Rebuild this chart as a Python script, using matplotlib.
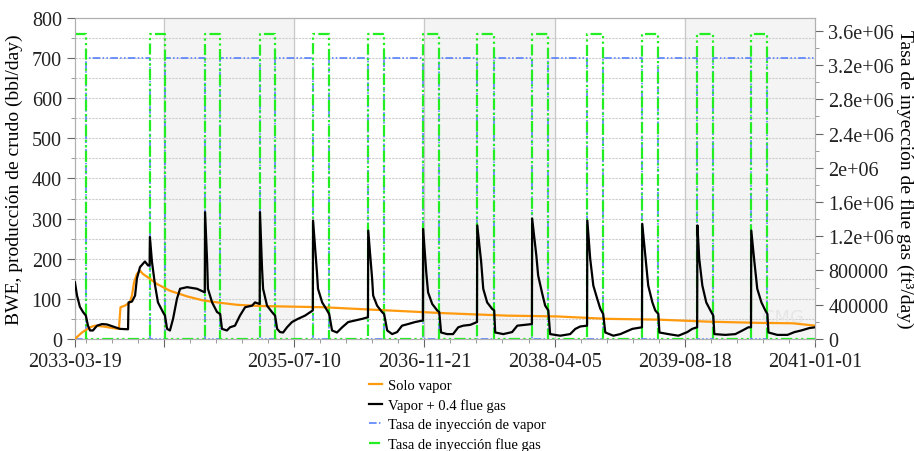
import numpy as np
import matplotlib
matplotlib.use("Agg")
import matplotlib.pyplot as plt
import matplotlib.dates as mdates
from matplotlib.ticker import MultipleLocator, FixedLocator, FixedFormatter

plt.rcParams['font.family'] = ['Liberation Serif', 'DejaVu Serif']

start = np.datetime64('2033-03-19')
end = np.datetime64('2041-01-01')

# flue gas injection windows (days from start)
gas_on = [0, 288, 500, 711, 915, 1127, 1338, 1546, 1757, 1969, 2180, 2392, 2599]
gas_off = [42, 346, 558, 769, 977, 1188, 1400, 1611, 1819, 2030, 2242, 2453, 2661]
steam_rate = 700          # bbl/day
gas_rate = 3.56e6         # ft3/day

# Solo vapor
solo_days = [0, 27, 58, 77, 108, 146, 169, 175, 192, 211, 219, 227, 238, 250, 261, 288,
             315, 365, 431, 492, 558, 623, 711, 950, 1203, 1423, 1661, 1853, 2046, 2242,
             2434, 2626, 2757, 2845]
solo_vals = [0, 16, 29, 33, 31, 27, 25, 79, 83, 91, 108, 141, 162, 170, 162, 150,
             137, 120, 106, 96, 90, 85, 82, 79, 71, 64, 58, 56, 50, 48,
             43, 40, 39, 33]

# Vapor + 0.4 flue gas
mix_days = [0, 8, 19, 31, 42, 50, 58, 69, 85, 104, 123, 173, 204, 206, 219, 231, 238, 250,
            269, 281, 287, 288, 296, 308, 319, 338, 346, 354, 365, 377, 392, 404, 431, 469,
            499, 500, 508, 511, 527, 546, 558, 565, 584, 596, 615, 634, 654, 681, 692, 710,
            711, 719, 723, 738, 757, 769, 777, 788, 800, 815, 834, 857, 884, 914,
            915, 930, 934, 950, 969, 977, 988, 1007, 1027, 1050, 1077, 1104, 1126,
            1127, 1142, 1146, 1161, 1180, 1188, 1200, 1219, 1238, 1257, 1280, 1307, 1337,
            1338, 1350, 1357, 1373, 1392, 1400, 1407, 1430, 1453, 1473, 1492, 1519, 1545,
            1546, 1561, 1569, 1584, 1603, 1611, 1615, 1646, 1680, 1700, 1730, 1756,
            1757, 1773, 1780, 1796, 1807, 1819, 1826, 1865, 1903, 1923, 1942, 1968,
            1969, 1980, 1992, 2007, 2019, 2030, 2038, 2069, 2096, 2142, 2179,
            2180, 2192, 2203, 2219, 2230, 2242, 2246, 2280, 2319, 2353, 2372, 2391,
            2392, 2399, 2411, 2426, 2442, 2453, 2457, 2499, 2538, 2565, 2588, 2598,
            2599, 2611, 2622, 2638, 2653, 2661, 2665, 2699, 2738, 2765, 2791, 2822, 2845]
mix_vals = [141, 108, 80, 67, 58, 33, 21, 21, 33, 37, 36, 25, 24, 91, 93, 108, 150, 179,
            193, 183, 183, 254, 192, 133, 91, 67, 58, 25, 21, 50, 100, 125, 129, 125,
            116, 316, 192, 125, 91, 67, 62, 25, 21, 29, 33, 58, 79, 83, 91, 87,
            316, 175, 125, 83, 67, 58, 25, 17, 16, 29, 42, 50, 58, 71,
            295, 166, 125, 91, 71, 62, 21, 16, 29, 42, 46, 50, 54,
            270, 150, 108, 83, 67, 62, 21, 12, 17, 33, 37, 42, 46,
            274, 166, 116, 87, 71, 67, 16, 12, 12, 29, 33, 35, 42,
            283, 192, 125, 91, 75, 71, 16, 12, 17, 33, 35, 37,
            300, 208, 158, 112, 83, 71, 12, 8, 12, 25, 31, 33,
            295, 200, 133, 100, 75, 62, 16, 8, 12, 25, 29,
            287, 208, 133, 91, 71, 62, 16, 12, 8, 17, 25, 29,
            283, 200, 133, 91, 71, 58, 12, 10, 12, 21, 29, 29,
            270, 192, 125, 91, 71, 62, 16, 10, 10, 17, 21, 27, 29]

x_ticks = ['2033-03-19', '2034-02-25', '2035-07-10', '2036-11-21', '2038-04-05', '2039-08-18', '2041-01-01']
x_labels = ['2033-03-19', '', '2035-07-10', '2036-11-21', '2038-04-05', '2039-08-18', '2041-01-01']
right_ticks = [0, 400000, 800000, 1200000, 1600000, 2000000, 2400000, 2800000, 3200000, 3600000]
right_labels = ['0', '400000', '800000', '1.2e+06', '1.6e+06', '2e+06', '2.4e+06', '2.8e+06', '3.2e+06', '3.6e+06']


def to_dates(days):
    return start + np.array(days).astype('timedelta64[D]')


# step series for the injection rates
total = int((end - start) / np.timedelta64(1, 'D'))
g_x, g_y, s_x, s_y = [], [], [], []
for on, off in zip(gas_on, gas_off):
    g_x += [on, on, off, off]
    g_y += [0, gas_rate, gas_rate, 0]
    s_x += [on, on, off, off]
    s_y += [steam_rate, 0, 0, steam_rate]
g_x = [0] + g_x[1:] + [total]
g_y = [gas_rate] + g_y[1:] + [0]
s_x = [0] + s_x[1:] + [total]
s_y = [0] + s_y[1:] + [steam_rate]

fig = plt.figure(figsize=(9.14, 4.52), dpi=100)
ax = fig.add_axes([0.082, 0.248, 0.810, 0.710])
ax2 = ax.twinx()
ax.set_zorder(ax2.get_zorder() + 1)
ax.patch.set_visible(False)

ax.set_xlim(start, end)
ax.set_ylim(0, 800)
ax2.set_ylim(0, 3.75e6)

# alternating shaded bands
tick_dates = [np.datetime64(t) for t in x_ticks]
for i in (1, 3, 5):
    ax2.axvspan(tick_dates[i], tick_dates[i + 1], color='#f4f4f4', zorder=0)

dash = (0, (5, 1.5, 1, 1.5, 1, 1.5))
l3, = ax.plot(to_dates(s_x), s_y, color='#4a78ff', lw=1.1, ls=dash,
              label='Tasa de inyección de vapor', zorder=2)
# flue gas rate drawn in the left axes but scaled by the right axis
l4, = ax.plot(to_dates(g_x), g_y, color='#22ee22', lw=1.6, ls=dash,
              label='Tasa de inyección flue gas', zorder=2.5, transform=ax2.transData)
l1, = ax.plot(to_dates(solo_days), solo_vals, color='#ff9a0e', lw=1.6, label='Solo vapor', zorder=3)
l2, = ax.plot(to_dates(mix_days), mix_vals, color='black', lw=1.6, label='Vapor + 0.4 flue gas', zorder=4)
ax.set_ylim(0, 800)

ax.xaxis.set_major_locator(FixedLocator(mdates.date2num(tick_dates)))
ax.xaxis.set_major_formatter(FixedFormatter(x_labels))
minor = np.arange(-300, 2900, 100)
minor_dates = [np.datetime64('2034-02-25') + np.timedelta64(int(m), 'D') for m in minor]
minor_dates = [d for d in minor_dates if start <= d <= end]
ax.xaxis.set_minor_locator(FixedLocator(mdates.date2num(minor_dates)))

ax.yaxis.set_major_locator(MultipleLocator(100))
ax.yaxis.set_minor_locator(MultipleLocator(50))
ax2.yaxis.set_major_locator(FixedLocator(right_ticks))
ax2.yaxis.set_major_formatter(FixedFormatter(right_labels))
ax2.yaxis.set_minor_locator(MultipleLocator(200000))

ax2.grid(False)
for y in np.arange(50, 800, 50):
    ax2.axhline(y * 3.75e6 / 800, color='#cdcdcd', lw=0.8, ls=(0, (2, 1)), zorder=1)
for t in tick_dates[1:-1]:
    ax2.axvline(t, color='#c8c8c8', lw=0.9, zorder=1)

for a in (ax, ax2):
    for s in a.spines.values():
        s.set_color('#b0b0b0')
    a.tick_params(which='major', length=6, color='#666666', labelsize=14.5, labelcolor='#222222')
    a.tick_params(which='minor', length=3, color='#888888')

ax.set_ylabel('BWE, producción de crudo (bbl/day)', fontsize=14, labelpad=6)
ax2.set_ylabel('Tasa de inyección de flue gas (ft³/day)', fontsize=14, rotation=270, va='center')
ax2.yaxis.set_label_coords(1.121, 0.5)

ax2.text(0.985, 0.04, 'CMG', transform=ax2.transAxes, ha='right', va='bottom',
         fontsize=13, color='#e6e6e6', family='DejaVu Sans', zorder=1)

fig.legend([l1, l2, l3, l4], [h.get_label() for h in (l1, l2, l3, l4)],
           loc='upper left', bbox_to_anchor=(0.404, 0.16), frameon=False,
           fontsize=10.5, handlelength=0.9, handletextpad=0.4, labelspacing=0.42,
           borderaxespad=0, borderpad=0)

fig.savefig('out.png', dpi=100)
